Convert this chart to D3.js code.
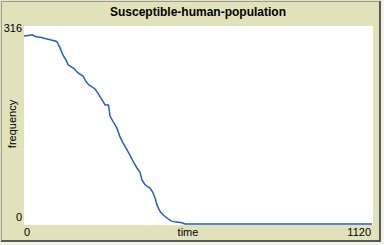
<!DOCTYPE html>
<html>
<head>
<meta charset="utf-8">
<script src="https://cdn.jsdelivr.net/npm/d3@7/dist/d3.min.js"></script>
<style>
  body { margin: 0; background: #f2f2ee; }
  svg { display: block; }
  text { font-family: "Liberation Sans", Arial, sans-serif; font-size: 11px; fill: #000; }
</style>
</head>
<body>
<div id="plot"></div>
<script>
// plot data
var ticks = [0, 13, 26, 39, 52, 68, 84, 100, 106, 116, 126, 135, 142, 151, 161, 174, 190, 200, 209, 219,
             229, 238, 251, 261, 272, 277, 286, 299, 309, 319, 332, 341, 352, 364, 373, 380, 389, 406,
             415, 423, 428, 438, 449, 464, 473, 489, 509, 518, 1120];
var susceptible = [300, 301, 302, 299, 298, 296, 294, 292, 291, 281, 269, 262, 254, 251, 248, 241, 236, 227, 222, 219,
                   215, 209, 198, 190, 190, 172, 164, 153, 139, 129, 118, 110, 99, 89, 83, 70, 63, 57,
                   50, 40, 30, 20, 14, 8, 5, 3, 2, 0, 0];
var xTicks = [0, 1120];
var yTicks = [0, 316];
var title = "Susceptible-human-population";

var W = 384, H = 245;
var box = { left: 24, right: 373, top: 26, bottom: 225 };

var svg = d3.select('#plot').append('svg').attr('width', W).attr('height', H);

// frame
svg.append('rect').attr('x', 0).attr('y', 0).attr('width', 381).attr('height', 242).attr('fill', '#e1e1bb');
svg.append('path').attr('d', 'M1.5,241 V1.5 H380').attr('stroke', '#9c9c94').attr('fill', 'none');
svg.append('path').attr('d', 'M380,1 V241 H1').attr('stroke', '#5a5a50').attr('stroke-width', 2).attr('fill', 'none');

svg.append('rect')
    .attr('x', box.left).attr('y', box.top)
    .attr('width', box.right - box.left).attr('height', box.bottom - box.top)
    .attr('fill', '#fff');

var x = d3.scaleLinear().domain([0, 1120]).range([box.left, box.right - 1]);
var y = d3.scaleLinear().domain([0, 316]).range([box.bottom - 1, box.top]);

var line = d3.line()
    .x(function (d, i) { return x(ticks[i]); })
    .y(function (d) { return y(d); });

svg.append('path')
    .datum(susceptible)
    .attr('d', line)
    .attr('fill', 'none')
    .attr('stroke', '#2f5cb6')
    .attr('stroke-width', 1.5);

// title
svg.append('text')
    .attr('x', 198).attr('y', 16)
    .attr('text-anchor', 'middle')
    .attr('font-weight', 'bold')
    .style('font-size', '12px')
    .text(title);

// y labels
svg.append('text').attr('x', 22).attr('y', 32).attr('text-anchor', 'end').text(yTicks[1]);
svg.append('text').attr('x', 22).attr('y', 221).attr('text-anchor', 'end').text(yTicks[0]);
svg.append('text')
    .attr('transform', 'translate(16,124) rotate(-90)')
    .attr('text-anchor', 'middle')
    .text('frequency');

// x labels
svg.append('text').attr('x', 24).attr('y', 236).text(xTicks[0]);
svg.append('text').attr('x', 371).attr('y', 236).attr('text-anchor', 'end').text(xTicks[1]);
svg.append('text').attr('x', 188).attr('y', 236).attr('text-anchor', 'middle').text('time');
</script>
</body>
</html>
